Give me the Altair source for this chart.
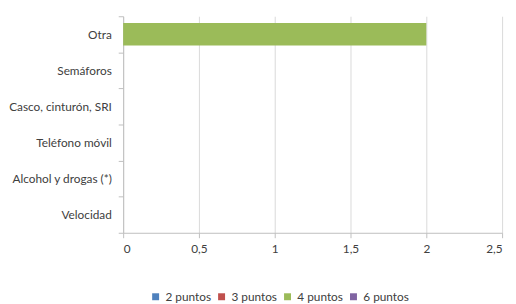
import altair as alt
import pandas as pd

categories = ["Otra", "Semáforos", "Casco, cinturón, SRI", "Teléfono móvil",
              "Alcohol y drogas (*)", "Velocidad"]
series = ["2 puntos", "3 puntos", "4 puntos", "6 puntos"]
values = {
    "2 puntos": [0, 0, 0, 0, 0, 0],
    "3 puntos": [0, 0, 0, 0, 0, 0],
    "4 puntos": [2, 0, 0, 0, 0, 0],
    "6 puntos": [0, 0, 0, 0, 0, 0],
}
colors = ["#4F81BD", "#C0504D", "#9BBB59", "#8064A2"]

rows = []
for s in series:
    for c, v in zip(categories, values[s]):
        rows.append({"categoria": c, "serie": s, "valor": v})
df = pd.DataFrame(rows)

font = "Lato"

chart = alt.Chart(df).mark_bar(size=23).encode(
    y=alt.Y("categoria:N", sort=categories, title=None,
            scale=alt.Scale(paddingInner=0, paddingOuter=0),
            axis=alt.Axis(tickBand="extent", tickSize=5, tickColor="#BFBFBF",
                          domainColor="#BFBFBF", labelPadding=7,
                          labelFontSize=12, labelColor="#404040", labelFont=font)),
    x=alt.X("valor:Q", title=None, stack="zero",
            scale=alt.Scale(domain=[0, 2.5], nice=False),
            axis=alt.Axis(values=[0, 0.5, 1, 1.5, 2, 2.5],
                          labelExpr="replace(format(datum.value, '.1~f'), '.', ',')",
                          grid=True, gridColor="#D9D9D9", tickSize=5,
                          tickColor="#BFBFBF", domainColor="#BFBFBF",
                          labelPadding=6, labelFontSize=12, labelColor="#404040",
                          labelFont=font)),
    color=alt.Color("serie:N", sort=series,
                    scale=alt.Scale(domain=series, range=colors),
                    legend=alt.Legend(title=None, orient="none", direction="horizontal",
                                      legendX=27, legendY=279,
                                      symbolType="square", symbolSize=50,
                                      symbolStrokeWidth=0,
                                      labelFontSize=12, labelColor="#404040",
                                      labelFont=font, columnPadding=4,
                                      symbolOffset=0)),
).properties(width=385, height=220, padding={"left": 0, "top": 0, "right": 5, "bottom": 0}
).configure_view(stroke=None)

chart.save("out.html", embed_options={"renderer": "svg", "actions": False})
